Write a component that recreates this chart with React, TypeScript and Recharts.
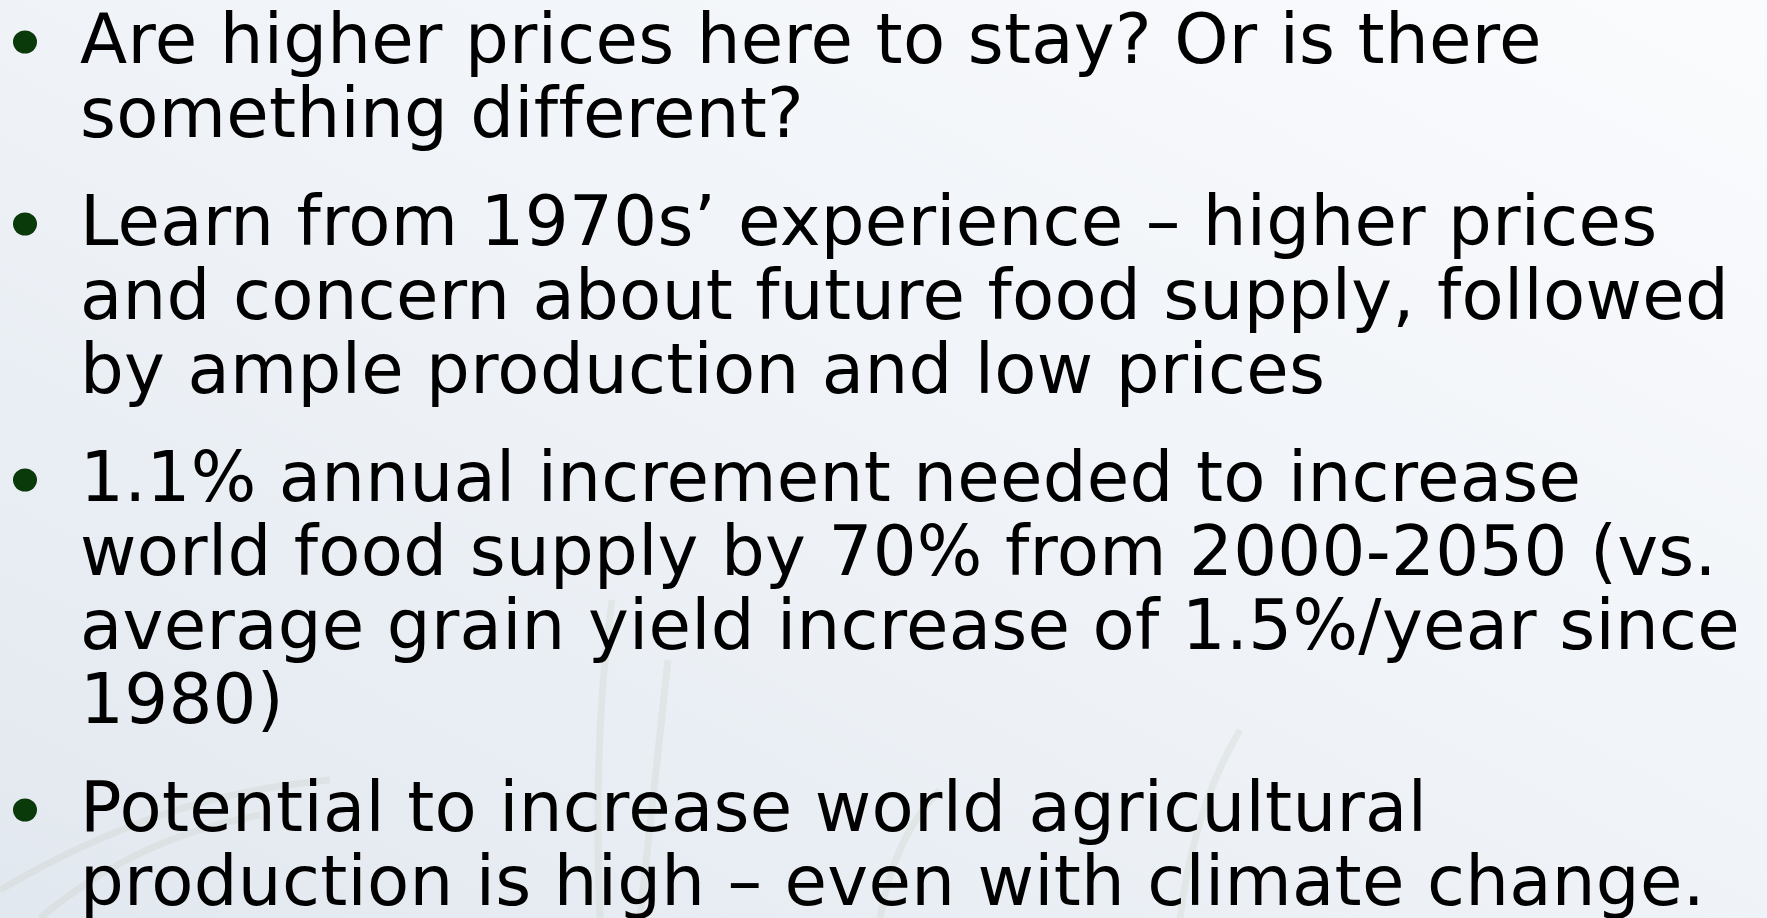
import React from 'react';
import { Surface, Layer, Text } from 'recharts';

const bullet1 = ['Are higher prices here to stay? Or is there', 'something different?'];
const bullet2 = [
  'Learn from 1970s\u2019 experience \u2013 higher prices',
  'and concern about future food supply, followed',
  'by ample production and low prices',
];
const bullet3 = [
  '1.1% annual increment needed to increase',
  'world food supply by 70% from 2000-2050 (vs.',
  'average grain yield increase of 1.5%/year since',
  '1980)',
];
const bullet4 = ['Potential to increase world agricultural', 'production is high \u2013 even with climate change.'];

const bullets = [bullet1, bullet2, bullet3, bullet4];

const W = 1767;
const H = 918;
const FONT = '"DejaVu Sans", Verdana, sans-serif';
const FONT_SIZE = 69;
const LINE = 74;
const GAP = 34;
const FIRST_BASELINE = 63;
const TEXT_X = 80;

// faint grass blades in the slide background
const blades = [
  'M 600 918 C 595 800 598 700 612 600',
  'M 640 918 C 650 820 660 740 668 660',
  'M 0 890 C 120 820 220 790 330 780',
  'M 40 918 C 110 860 180 830 260 815',
  'M 1180 918 C 1190 840 1210 780 1240 730',
  'M 880 918 C 890 860 910 820 940 790',
];

const Slide = () => {
  let y = FIRST_BASELINE;
  const items = bullets.map((lines, i) => {
    const top = y;
    const texts = lines.map((line, j) => (
      <Text
        key={j}
        x={TEXT_X}
        y={top + j * LINE}
        fontFamily={FONT}
        fontSize={FONT_SIZE}
        letterSpacing={0.3}
        fill="#000"
      >
        {line}
      </Text>
    ));
    y = top + lines.length * LINE + GAP;
    return (
      <Layer key={i}>
        <ellipse cx={25} cy={top - 21} rx={12} ry={11.5} fill="#0b3a0a" />
        {texts}
      </Layer>
    );
  });

  return (
    <Surface width={W} height={H} style={{ display: 'block' }}>
      <defs>
        <linearGradient id="bg" x1="1" y1="0" x2="0" y2="1">
          <stop offset="0%" stopColor="#fafbfd" />
          <stop offset="55%" stopColor="#eef2f7" />
          <stop offset="100%" stopColor="#e2e8ef" />
        </linearGradient>
      </defs>
      <rect x={0} y={0} width={W} height={H} fill="url(#bg)" />
      <Layer>
        {blades.map((d, i) => (
          <path key={i} d={d} fill="none" stroke="#c9d0c8" strokeOpacity={0.3} strokeWidth={7} />
        ))}
      </Layer>
      {items}
    </Surface>
  );
};

export default function App() {
  return (
    <div style={{ position: 'fixed', left: 0, top: 0, width: W, height: H, overflow: 'hidden' }}>
      <Slide />
    </div>
  );
}
